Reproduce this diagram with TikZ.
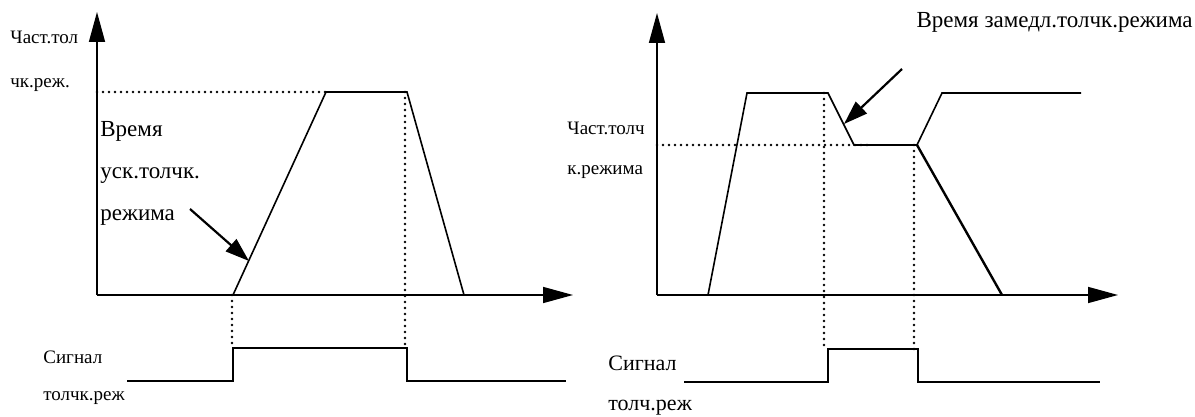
\documentclass[tikz,border=0pt]{standalone}
\usepackage{fontspec}
\setmainfont{Liberation Serif}
\usetikzlibrary{arrows.meta,positioning}

\tikzset{
  axisline/.style={line width=0.8pt, -{Triangle[length=15pt,width=8pt]}},
  curveline/.style={line width=0.8pt, line join=miter},
  guideline/.style={line width=1.3pt, line cap=round, dash pattern=on 0pt off 3pt},
  pointer/.style={line width=1.1pt, -{Triangle[length=12pt,width=8pt]}},
  biglbl/.style={anchor=west, inner sep=0pt, font=\fontsize{11.5}{14}\selectfont},
  smalllbl/.style={anchor=west, inner sep=0pt, font=\fontsize{9.5}{11}\selectfont}
}

\begin{document}
\begin{tikzpicture}[x=0.5pt, y=-0.5pt]
  \useasboundingbox (0,0) rectangle (1195,417);

  % left chart: axes
  \coordinate (oL) at (97,295);
  \coordinate (yL) at (97,12);
  \coordinate (xL) at (573,295);
  \draw[axisline] (oL) -- (yL);
  \draw[axisline] (oL) -- (xL);

  % left chart: frequency curve
  \coordinate (aL) at (233,295);
  \coordinate (bL) at (326,92);
  \coordinate (cL) at (407,92);
  \coordinate (dL) at (464,295);
  \draw[curveline] (aL) -- (bL) -- (cL) -- (dL);
  \draw[guideline] (97,92) -- (bL);

  % left chart: jog signal
  \draw[curveline] (127,381) -- (233,381) -- (233,348) -- (407,348) -- (407,381) -- (566,381);

  % right chart: axes
  \coordinate (oR) at (657,295);
  \coordinate (yR) at (657,13);
  \coordinate (xR) at (1118,295);
  \draw[axisline] (oR) -- (yR);
  \draw[axisline] (oR) -- (xR);

  % right chart: frequency curve
  \coordinate (aR) at (708,295);
  \coordinate (bR) at (747,93);
  \coordinate (cR) at (828,93);
  \coordinate (dR) at (854,145);
  \coordinate (eR) at (917,145);
  \coordinate (fR) at (942,93);
  \coordinate (gR) at (1081,93);
  \coordinate (hR) at (1002,295);
  \draw[curveline] (aR) -- (bR) -- (cR) -- (dR) -- (eR) -- (fR) -- (gR);
  \draw[line width=1.2pt] (eR) -- (hR);
  \draw[guideline] (657,145) -- (870,145);

  % right chart: jog signal
  \draw[curveline] (684,382) -- (828,382) -- (828,349) -- (918,349) -- (918,382) -- (1100,382);

  % dotted guides down to the signal
  \foreach \x/\ya/\yb in {232/295/348, 405/92/348, 824/93/349, 914/145/349}{
    \draw[guideline] (\x,\ya) -- (\x,\yb);
  }

  % labels
  \node[smalllbl] (fLtop) at (10,37) {Част.тол};
  \node[smalllbl] (fLbot) at (10,85) {чк.реж.};
  \node[biglbl] (accA) at (100,131) {Время};
  \node[biglbl] (accB) at (100,176) {уск.толчк.};
  \node[biglbl] (accC) at (100,218) {режима};
  \node[smalllbl] (sigLa) at (43,357) {Сигнал};
  \node[smalllbl] (sigLb) at (43,398) {толчк.реж};

  \node[biglbl, anchor=east] (decT) at (1193,22) {Время замедл.толчк.режима};
  \node[smalllbl] (fRtop) at (567,128) {Част.толч};
  \node[smalllbl] (fRbot) at (567,172) {к.режима};
  \node[biglbl, font=\fontsize{11}{13}\selectfont] (sigRa) at (608,363) {Сигнал};
  \node[biglbl, font=\fontsize{11}{13}\selectfont] (sigRb) at (608,408) {толч.реж};

  % pointers
  \coordinate (pLs) at (190,209);
  \coordinate (pLe) at (249,261);
  \coordinate (pRs) at (902,69);
  \coordinate (pRe) at (844,124);
  \draw[pointer] (pLs) -- (pLe);
  \draw[pointer] (pRs) -- (pRe);
\end{tikzpicture}
\end{document}
